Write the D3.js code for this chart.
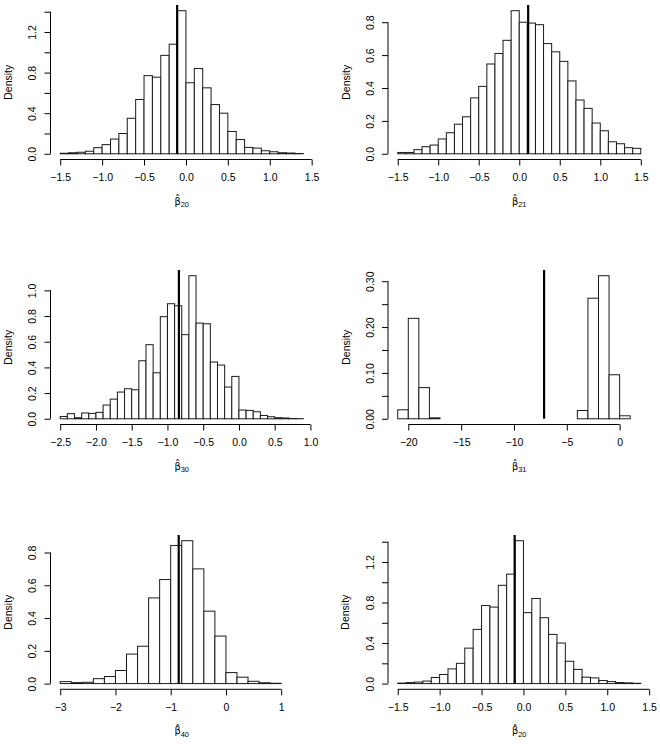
<!DOCTYPE html>
<html><head><meta charset="utf-8">
<script src="https://cdn.jsdelivr.net/npm/d3@7"></script>
<style>
body{margin:0;background:#fff}
svg{display:block}
text{font-family:"Liberation Sans",Arial,Helvetica,sans-serif;fill:#000}
</style></head>
<body><svg id="c" width="660" height="748"></svg>
<script>
// ---- data (histogram densities) ----
const dens20 = [0.005,0.01,0.015,0.025,0.06,0.09,0.145,0.2,0.35,0.535,0.77,0.755,0.97,1.08,1.41,0.70,0.84,0.65,0.485,0.40,0.22,0.14,0.063,0.056,0.03,0.02,0.01,0.007,0.003];
const start20 = -1.5, width20 = 0.1, vline20 = -0.105;

const dens21 = [0.008,0.008,0.025,0.043,0.053,0.09,0.128,0.18,0.225,0.34,0.41,0.546,0.61,0.69,0.87,0.80,0.795,0.785,0.67,0.62,0.562,0.443,0.327,0.276,0.187,0.14,0.073,0.061,0.037,0.033];
const start21 = -1.5, width21 = 0.1, vline21 = 0.11;

const dens30 = [0.018,0.04,0.008,0.045,0.042,0.05,0.107,0.153,0.208,0.234,0.226,0.452,0.577,0.358,0.795,0.896,0.88,0.655,1.114,0.745,0.74,0.442,0.418,0.247,0.33,0.068,0.065,0.055,0.026,0.016,0.008,0.006,0.002,0.001];
const start30 = -2.5, width30 = 0.1, vline30 = -0.84;

const dens31 = [0.0196,0.219,0.068,0.002,0,0,0,0,0,0,0,0,0,0,0,0,0,0.018,0.263,0.312,0.096,0.0065,0];
const start31 = -21, width31 = 1, vline31 = -7.15;

const dens40 = [0.012,0.006,0.008,0.03,0.043,0.08,0.18,0.228,0.523,0.635,0.843,0.872,0.70,0.442,0.29,0.067,0.039,0.014,0.005,0.002,0,0];
const start40 = -3, width40 = 0.2, vline40 = -0.855;

// ---- tick values and labels ----
const xTicksA = [-1.5,-1,-0.5,0,0.5,1,1.5];
const xLabelsA = ["\u22121.5","\u22121.0","\u22120.5","0.0","0.5","1.0","1.5"];
const xTicks30 = [-2.5,-2,-1.5,-1,-0.5,0,0.5,1];
const xLabels30 = ["\u22122.5","\u22122.0","\u22121.5","\u22121.0","\u22120.5","0.0","0.5","1.0"];
const xTicks31 = [-20,-15,-10,-5,0];
const xLabels31 = ["\u221220","\u221215","\u221210","\u22125","0"];
const xTicks40 = [-3,-2,-1,0,1];
const xLabels40 = ["\u22123","\u22122","\u22121","0","1"];

const yTicks20 = [0,0.2,0.4,0.6,0.8,1.0,1.2,1.4];
const yLabels20 = ["0.0","","0.4","","0.8","","1.2",""];
const yTicks21 = [0,0.2,0.4,0.6,0.8];
const yLabels21 = ["0.0","0.2","0.4","0.6","0.8"];
const yTicks30 = [0,0.2,0.4,0.6,0.8,1.0];
const yLabels30 = ["0.0","0.2","0.4","0.6","0.8","1.0"];
const yTicks31 = [0,0.05,0.10,0.15,0.20,0.25,0.30];
const yLabels31 = ["0.00","","0.10","","0.20","","0.30"];
const yTicks40 = [0,0.2,0.4,0.6,0.8];
const yLabels40 = ["0.0","0.2","0.4","0.6","0.8"];

const panels = [
  {dens:dens20, start:start20, width:width20, vline:vline20, xt:xTicksA, xl:xLabelsA, yt:yTicks20, yl:yLabels20, sub:"20", col:0, row:0},
  {dens:dens21, start:start21, width:width21, vline:vline21, xt:xTicksA, xl:xLabelsA, yt:yTicks21, yl:yLabels21, sub:"21", col:1, row:0},
  {dens:dens30, start:start30, width:width30, vline:vline30, xt:xTicks30, xl:xLabels30, yt:yTicks30, yl:yLabels30, sub:"30", col:0, row:1},
  {dens:dens31, start:start31, width:width31, vline:vline31, xt:xTicks31, xl:xLabels31, yt:yTicks31, yl:yLabels31, sub:"31", col:1, row:1},
  {dens:dens40, start:start40, width:width40, vline:vline40, xt:xTicks40, xl:xLabels40, yt:yTicks40, yl:yLabels40, sub:"40", col:0, row:2},
  {dens:dens20, start:start20, width:width20, vline:vline20, xt:xTicksA, xl:xLabelsA, yt:yTicks20, yl:yLabels20, sub:"20", col:1, row:2}
];

// ---- layout ----
const colX = [[50.5,313],[388,650.5]];
const rowY = [[5,159.5],[270,424.5],[535,689.3]];
const FS = 10.5;
const svg = d3.select("#c");
svg.append("rect").attr("width",660).attr("height",748).attr("fill","#fff");

panels.forEach(p => {
  const [x0,x1] = colX[p.col], [top,bot] = rowY[p.row];
  const n = p.dens.length;
  const lo = p.start, hi = p.start + n*p.width;
  const bins = p.dens.map((d,i) => ({a: lo + i*p.width, b: lo + (i+1)*p.width, d}));
  const ymax = d3.max(p.dens);
  const x = d3.scaleLinear().domain([lo-0.04*(hi-lo), hi+0.04*(hi-lo)]).range([x0,x1]);
  const y = d3.scaleLinear().domain([-0.04*ymax, 1.04*ymax]).range([bot, top]);
  const g = svg.append("g");

  // bars
  g.selectAll("rect.bar").data(bins).join("rect").attr("class","bar")
    .attr("x", d => x(d.a)).attr("width", d => x(d.b)-x(d.a))
    .attr("y", d => y(d.d)).attr("height", d => y(0)-y(d.d))
    .attr("fill","#fff").attr("stroke","#1a1a1a").attr("stroke-width",1);

  // reference line
  g.append("line").attr("x1",x(p.vline)).attr("x2",x(p.vline))
    .attr("y1",y(1.04*ymax)).attr("y2",y(0))
    .attr("stroke","#000").attr("stroke-width",2.2);

  // x axis
  const gx = g.append("g").attr("transform",`translate(0,${bot})`)
    .call(d3.axisBottom(x).tickValues(p.xt).tickFormat((d,i)=>p.xl[i]).tickSize(6).tickPadding(8));
  gx.select(".domain").remove();
  gx.append("line").attr("x1",x(p.xt[0])).attr("x2",x(p.xt[p.xt.length-1]))
    .attr("stroke","#000").attr("stroke-width",1);
  gx.attr("font-size",FS).attr("font-family",null);
  gx.selectAll(".tick line").attr("stroke","#000");

  // y axis
  const gy = g.append("g").attr("transform",`translate(${x0},0)`)
    .call(d3.axisLeft(y).tickValues(p.yt).tickFormat((d,i)=>p.yl[i]).tickSize(6));
  gy.select(".domain").remove();
  gy.append("line").attr("y1",y(p.yt[0])).attr("y2",y(p.yt[p.yt.length-1]))
    .attr("stroke","#000").attr("stroke-width",1);
  gy.attr("font-size",FS).attr("font-family",null);
  gy.selectAll(".tick line").attr("stroke","#000");
  gy.selectAll(".tick text").attr("transform","rotate(-90)").attr("text-anchor","middle")
    .attr("x",0).attr("y",-14.4).attr("dy",null);

  // y label
  const lx = x0 - 38.5, ly = (top+bot)/2;
  g.append("text").attr("x",lx).attr("y",ly).attr("transform",`rotate(-90,${lx},${ly})`)
    .attr("text-anchor","middle").attr("font-size",FS).text("Density");

  // x label: beta-hat (combining circumflex) with subscript
  const cx = (x0+x1)/2, by = bot + 45;
  const t = g.append("text").attr("x",cx).attr("y",by).attr("text-anchor","middle").attr("font-size",FS);
  t.append("tspan").attr("font-family","DejaVu Sans").attr("font-size",9.8).text("\u03B2\u0302");
  t.append("tspan").attr("font-size",7.5).attr("dy",2.3).text(p.sub);
});
</script></body></html>
